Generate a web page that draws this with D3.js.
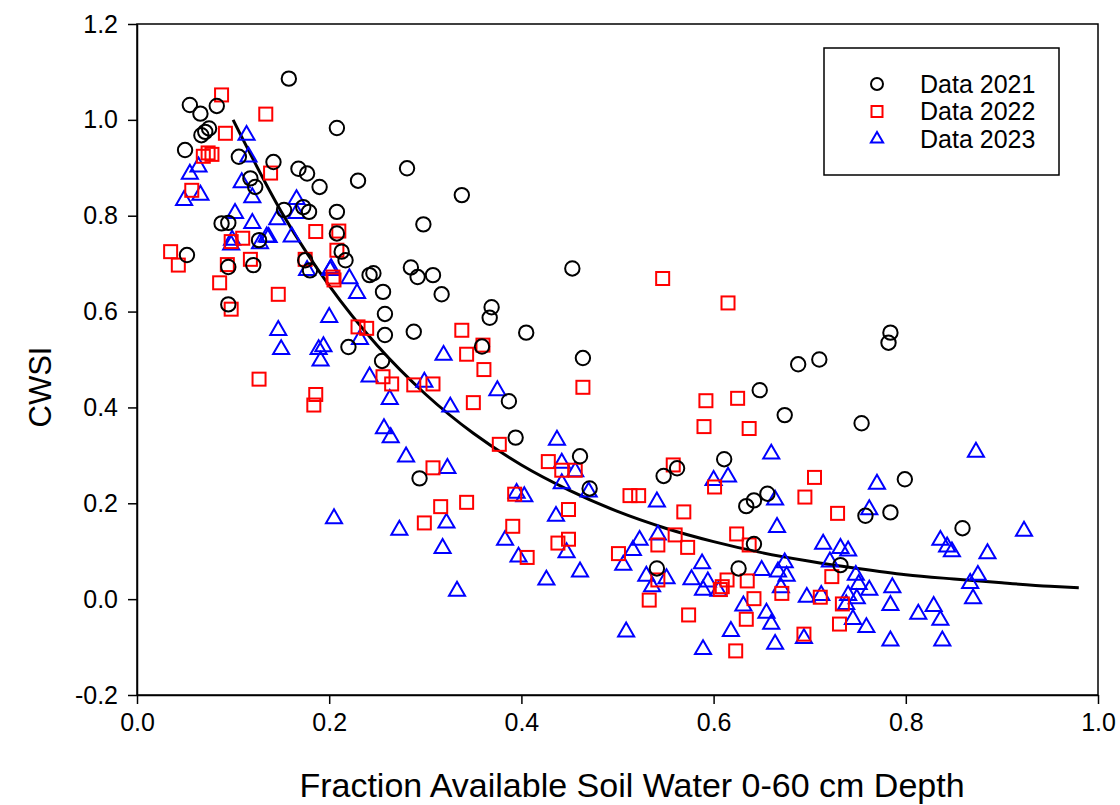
<!DOCTYPE html>
<html>
<head>
  <meta charset="utf-8">
  <title>CWSI vs Fraction Available Soil Water</title>
  <script src="https://d3js.org/d3.v7.min.js"></script>
</head>
<style>
  body {
    margin: 0;
    background: #fff;
    font-family: "Liberation Sans", Arial, sans-serif;
  }
  .axis text {
    font-size: 25px;
    fill: #000;
    font-family: "Liberation Sans", Arial, sans-serif;
  }
  .axis path,
  .axis line {
    stroke: #000;
    stroke-width: 1.5;
  }
</style>
<body>
  <svg id="chart"></svg>
  <script>
    // values
    const data2021 = [
      [0.055,1.031],[0.066,1.013],[0.083,1.029],[0.158,1.086],[0.050,0.937],[0.067,0.968],[0.071,0.975],[0.075,0.982],
      [0.106,0.923],[0.142,0.912],[0.168,0.898],[0.177,0.888],[0.190,0.860],[0.118,0.878],[0.123,0.860],[0.173,0.818],
      [0.179,0.808],[0.153,0.812],[0.208,0.808],[0.088,0.784],[0.095,0.785],[0.208,0.983],[0.230,0.873],[0.281,0.899],
      [0.338,0.843],[0.298,0.782],[0.208,0.763],[0.213,0.725],[0.217,0.707],[0.242,0.676],[0.246,0.680],[0.285,0.692],
      [0.292,0.672],[0.308,0.676],[0.256,0.641],[0.317,0.636],[0.369,0.609],[0.367,0.587],[0.258,0.595],[0.258,0.551],
      [0.288,0.558],[0.405,0.556],[0.220,0.526],[0.052,0.718],[0.095,0.693],[0.121,0.697],[0.095,0.615],[0.127,0.749],
      [0.175,0.707],[0.180,0.686],[0.255,0.497],[0.359,0.527],[0.387,0.413],[0.394,0.337],[0.294,0.252],[0.453,0.690],
      [0.464,0.503],[0.461,0.298],[0.471,0.231],[0.548,0.257],[0.562,0.273],[0.611,0.292],[0.541,0.064],[0.634,0.194],
      [0.642,0.206],[0.656,0.220],[0.799,0.250],[0.758,0.174],[0.784,0.181],[0.642,0.115],[0.626,0.064],[0.732,0.071],
      [0.784,0.556],[0.782,0.535],[0.688,0.490],[0.710,0.500],[0.648,0.436],[0.674,0.384],[0.754,0.367],[0.859,0.148]
    ];
    const data2022 = [
      [0.088,1.052],[0.134,1.012],[0.092,0.972],[0.069,0.924],[0.074,0.931],[0.078,0.928],[0.139,0.889],[0.057,0.853],
      [0.186,0.767],[0.098,0.746],[0.110,0.753],[0.035,0.725],[0.043,0.697],[0.118,0.709],[0.094,0.698],[0.086,0.660],
      [0.147,0.636],[0.098,0.605],[0.175,0.709],[0.208,0.728],[0.210,0.768],[0.205,0.666],[0.204,0.672],[0.127,0.459],
      [0.186,0.427],[0.184,0.405],[0.230,0.568],[0.239,0.565],[0.338,0.561],[0.360,0.530],[0.343,0.511],[0.361,0.479],
      [0.256,0.464],[0.265,0.449],[0.288,0.447],[0.308,0.449],[0.350,0.410],[0.377,0.323],[0.308,0.274],[0.343,0.202],
      [0.316,0.193],[0.299,0.159],[0.393,0.219],[0.391,0.152],[0.406,0.087],[0.547,0.669],[0.615,0.618],[0.464,0.442],
      [0.592,0.414],[0.590,0.360],[0.625,0.419],[0.637,0.356],[0.428,0.287],[0.442,0.269],[0.456,0.269],[0.449,0.187],
      [0.438,0.117],[0.449,0.125],[0.558,0.280],[0.513,0.216],[0.522,0.216],[0.569,0.182],[0.601,0.234],[0.560,0.134],
      [0.573,0.108],[0.542,0.113],[0.501,0.095],[0.533,-0.002],[0.542,0.040],[0.574,-0.033],[0.614,0.040],[0.609,0.026],
      [0.607,0.020],[0.624,0.136],[0.637,0.113],[0.635,0.038],[0.642,0.001],[0.671,0.012],[0.634,-0.042],[0.623,-0.108],
      [0.695,0.213],[0.729,0.179],[0.705,0.254],[0.723,0.047],[0.711,0.004],[0.734,-0.010],[0.731,-0.052],[0.694,-0.073]
    ];
    const data2023 = [
      [0.114,0.968],[0.116,0.923],[0.064,0.902],[0.055,0.887],[0.109,0.869],[0.120,0.838],[0.049,0.832],[0.066,0.843],
      [0.166,0.834],[0.166,0.805],[0.102,0.805],[0.146,0.792],[0.120,0.784],[0.135,0.756],[0.161,0.756],[0.099,0.749],
      [0.098,0.739],[0.128,0.742],[0.137,0.755],[0.177,0.686],[0.201,0.686],[0.200,0.588],[0.147,0.561],[0.150,0.521],
      [0.189,0.521],[0.194,0.527],[0.191,0.497],[0.205,0.168],[0.202,0.690],[0.221,0.669],[0.229,0.638],[0.232,0.542],
      [0.242,0.464],[0.263,0.417],[0.299,0.453],[0.319,0.509],[0.326,0.401],[0.375,0.435],[0.257,0.356],[0.264,0.337],
      [0.280,0.297],[0.323,0.273],[0.395,0.221],[0.403,0.214],[0.273,0.144],[0.322,0.159],[0.318,0.106],[0.383,0.123],
      [0.397,0.088],[0.333,0.017],[0.437,0.332],[0.442,0.284],[0.456,0.266],[0.442,0.241],[0.470,0.224],[0.436,0.173],
      [0.447,0.097],[0.461,0.057],[0.426,0.040],[0.541,0.203],[0.542,0.134],[0.523,0.123],[0.516,0.102],[0.506,0.071],
      [0.530,0.048],[0.536,0.026],[0.551,0.043],[0.509,-0.068],[0.600,0.248],[0.615,0.255],[0.588,0.074],[0.577,0.041],
      [0.589,0.019],[0.594,0.036],[0.605,0.017],[0.618,-0.067],[0.589,-0.105],[0.770,0.240],[0.664,0.207],[0.762,0.187],
      [0.666,0.150],[0.714,0.115],[0.732,0.106],[0.740,0.101],[0.721,0.078],[0.674,0.076],[0.650,0.060],[0.667,0.057],
      [0.676,0.048],[0.748,0.050],[0.751,0.031],[0.762,0.019],[0.786,0.024],[0.670,0.024],[0.697,0.004],[0.712,0.008],
      [0.740,0.008],[0.749,0.001],[0.738,-0.011],[0.784,-0.013],[0.631,-0.014],[0.655,-0.029],[0.660,-0.052],[0.745,-0.042],
      [0.759,-0.059],[0.694,-0.082],[0.664,-0.094],[0.784,-0.087],[0.813,-0.031],[0.829,-0.015],[0.836,0.123],[0.843,0.109],
      [0.848,0.099],[0.836,-0.044],[0.838,-0.087],[0.873,0.307],[0.923,0.142],[0.885,0.095],[0.875,0.050],[0.867,0.033],
      [0.870,0.001],[0.660,0.303]
    ];
    // fitted curve
    const fitX = [0.10,0.15,0.20,0.25,0.30,0.35,0.40,0.45,0.50,0.55,0.60,0.65,0.70,0.75,0.80,0.85,0.90,0.95,0.98];
    const fitY = [1.000,0.809,0.654,0.529,0.428,0.346,0.280,0.227,0.183,0.148,0.120,0.097,0.079,0.064,0.051,0.042,0.034,0.027,0.024];

    const xTicks = [0, 0.2, 0.4, 0.6, 0.8, 1.0];
    const yTicks = [-0.2, 0, 0.2, 0.4, 0.6, 0.8, 1.0, 1.2];
    const seriesNames = ["Data 2021", "Data 2022", "Data 2023"];

    const W = 1120, H = 805;
    const margin = { top: 24, right: 22, bottom: 110, left: 137 };
    const width = W - margin.left - margin.right;
    const height = H - margin.top - margin.bottom;

    const svgRoot = d3.select("#chart").attr("width", W).attr("height", H);
    const svg = svgRoot.append("g")
      .attr("transform", "translate(" + margin.left + "," + margin.top + ")");

    const x = d3.scaleLinear().domain([0, 1.0]).range([0, width]);
    const y = d3.scaleLinear().domain([-0.2, 1.2]).range([height, 0]);
    // plain hyphen for negatives, like the original
    const fmt = d => d3.format(".1f")(d).replace("\u2212", "-");

    // frame
    svg.append("rect")
      .attr("width", width).attr("height", height)
      .attr("fill", "none").attr("stroke", "#000").attr("stroke-width", 1.5);

    svg.append("g")
      .attr("class", "axis")
      .attr("transform", "translate(0," + height + ")")
      .call(d3.axisBottom(x).tickValues(xTicks).tickFormat(fmt).tickSize(9).tickPadding(9).tickSizeOuter(0));
    svg.append("g")
      .attr("class", "axis")
      .call(d3.axisLeft(y).tickValues(yTicks).tickFormat(fmt).tickSize(9).tickPadding(10).tickSizeOuter(0));

    // fitted line
    const line = d3.line()
      .x((d, i) => x(fitX[i]))
      .y(d => y(d))
      .curve(d3.curveMonotoneX);
    svg.append("path")
      .datum(fitY)
      .attr("d", line)
      .attr("fill", "none")
      .attr("stroke", "#000")
      .attr("stroke-width", 3);

    const tri = d3.symbol().type(d3.symbolTriangle).size(112);

    // 2023 triangles
    svg.append("g").selectAll("path")
      .data(data2023)
      .join("path")
      .attr("d", tri)
      .attr("transform", d => "translate(" + x(d[0]) + "," + y(d[1]) + ")")
      .attr("fill", "none").attr("stroke", "#0000ff").attr("stroke-width", 2);

    // 2022 squares
    svg.append("g").selectAll("rect")
      .data(data2022)
      .join("rect")
      .attr("x", d => x(d[0]) - 6.5)
      .attr("y", d => y(d[1]) - 6.5)
      .attr("width", 13).attr("height", 13)
      .attr("fill", "none").attr("stroke", "#ff0000").attr("stroke-width", 2);

    // 2021 circles
    svg.append("g").selectAll("circle")
      .data(data2021)
      .join("circle")
      .attr("cx", d => x(d[0]))
      .attr("cy", d => y(d[1]))
      .attr("r", 7.2)
      .attr("fill", "none").attr("stroke", "#000").attr("stroke-width", 2);

    // axis titles
    svgRoot.append("text")
      .attr("x", 632)
      .attr("y", 797)
      .attr("text-anchor", "middle")
      .style("font-size", "34px")
      .text("Fraction Available Soil Water 0-60 cm Depth");
    svgRoot.append("text")
      .attr("transform", "translate(51,387) rotate(-90)")
      .attr("text-anchor", "middle")
      .style("font-size", "31px")
      .text("CWSI");

    // legend
    const lg = svgRoot.append("g").attr("transform", "translate(824,48)");
    lg.append("rect")
      .attr("width", 235).attr("height", 127)
      .attr("fill", "#fff").attr("stroke", "#000").attr("stroke-width", 1.5);
    const rows = lg.selectAll(".legend")
      .data(seriesNames)
      .join("g")
      .attr("class", "legend")
      .attr("transform", (d, i) => "translate(53," + (36 + i * 27.5) + ")");
    rows.each(function(d, i) {
      const g = d3.select(this);
      if (i === 0) {
        g.append("circle").attr("r", 6).attr("fill", "none").attr("stroke", "#000").attr("stroke-width", 2);
      } else if (i === 1) {
        g.append("rect").attr("x", -5.5).attr("y", -5.5).attr("width", 11).attr("height", 11)
          .attr("fill", "none").attr("stroke", "#ff0000").attr("stroke-width", 2);
      } else {
        g.append("path").attr("d", d3.symbol().type(d3.symbolTriangle).size(65))
          .attr("fill", "none").attr("stroke", "#0000ff").attr("stroke-width", 2);
      }
    });
    rows.append("text")
      .attr("x", 43)
      .attr("dy", "0.35em")
      .style("font-size", "25px")
      .text(d => d);
  </script>
</body>
</html>
